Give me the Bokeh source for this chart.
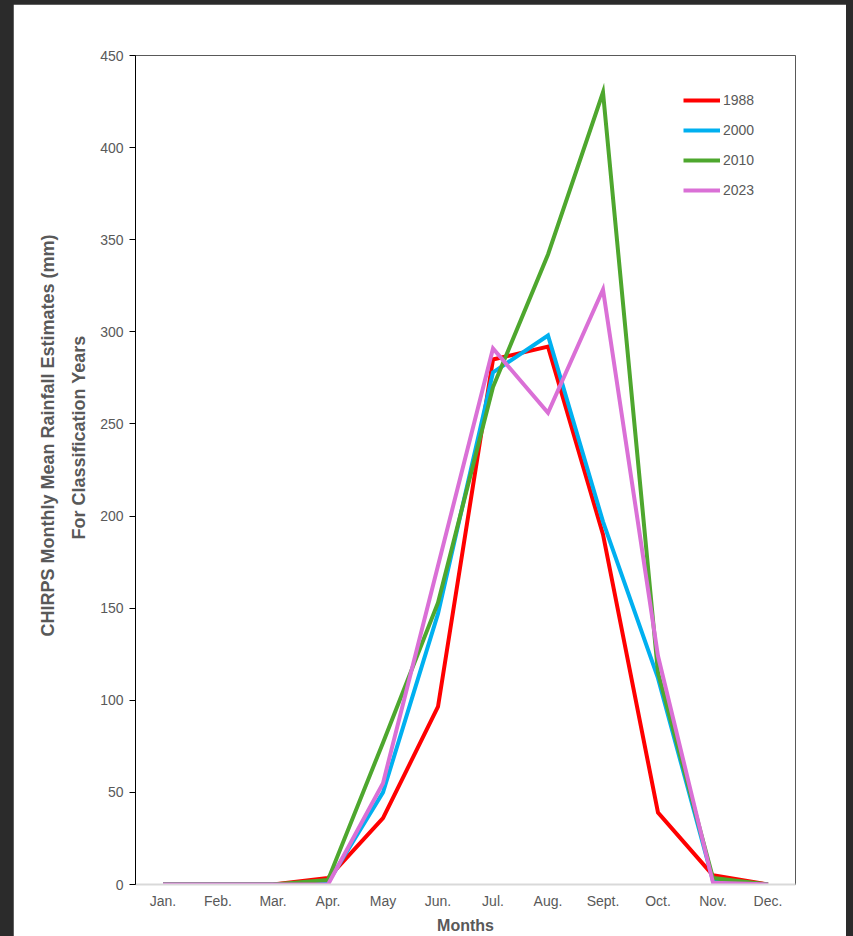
from bokeh.plotting import figure
from bokeh.models import Range1d, FactorRange, Legend, LegendItem, Title
from bokeh.embed import file_html
from bokeh.resources import INLINE

months = ["Jan.", "Feb.", "Mar.", "Apr.", "May", "Jun.", "Jul.", "Aug.", "Sept.", "Oct.", "Nov.", "Dec."]
y1988 = [0, 0, 0, 3.5, 36, 96.5, 285, 292, 190, 39, 5, 0]
y2000 = [0, 0, 0, 1, 50, 147, 278, 298, 197, 112, 2, 0]
y2010 = [0, 0, 0, 2.5, 77, 153, 270, 342, 430, 115, 3.5, 0]
y2023 = [0, 0, 0, 0, 55, 173, 291, 256, 323, 124, 1, 0]
series_names = ["1988", "2000", "2010", "2023"]
series_colors = ["#ff0000", "#00b0f0", "#4ea72e", "#da70d6"]
y_ticks = [0, 50, 100, 150, 200, 250, 300, 350, 400, 450]
y_title_lines = ["CHIRPS Monthly Mean Rainfall Estimates (mm)", "For Classification Years"]

FONT = "Liberation Sans"
GREY = "#595959"

p = figure(
    x_range=FactorRange(factors=months, range_padding=0),
    y_range=Range1d(0, 450),
    width=833, height=932,
    min_border_left=122, min_border_right=51, min_border_top=51, min_border_bottom=51,
    output_backend="svg", toolbar_location=None,
    background_fill_color="white", border_fill_color="white",
)
p.grid.visible = False
p.outline_line_color = "#595959"
p.outline_line_width = 1

renderers = []
for name, color, ys in zip(series_names, series_colors, [y1988, y2000, y2010, y2023]):
    r = p.line(months, ys, line_color=color, line_width=4, line_join="miter")
    renderers.append((name, r))

# y axis
ya = p.yaxis[0]
ya.ticker = y_ticks
ya.ticker.num_minor_ticks = 5
ya.major_tick_in = 0
ya.major_tick_out = 6
ya.minor_tick_in = 0
ya.minor_tick_out = 5
ya.axis_line_color = "black"
ya.major_tick_line_color = "black"
ya.minor_tick_line_color = "black"
ya.major_label_text_font = FONT
ya.major_label_text_font_size = "14px"
ya.major_label_text_color = GREY
ya.major_label_standoff = 6

# y title: two left-side titles (inner line first)
for line, so, off in [(y_title_lines[1], 18, 345), (y_title_lines[0], 0, 248)]:
    p.add_layout(Title(
        text=line, align="left", offset=off, standoff=so,
        text_font=FONT, text_font_style="bold", text_font_size="18px",
        text_color=GREY,
    ), "left")

# x axis
xa = p.xaxis[0]
xa.major_tick_in = 0
xa.major_tick_out = 0
xa.minor_tick_out = 0
xa.axis_line_color = "#d9d9d9"
xa.axis_line_width = 2
xa.major_label_text_font = FONT
xa.major_label_text_font_size = "14px"
xa.major_label_text_color = GREY
xa.major_label_standoff = 8
xa.axis_label = "Months"
xa.axis_label_text_font = FONT
xa.axis_label_text_font_style = "bold"
xa.axis_label_text_font_size = "16px"
xa.axis_label_text_color = GREY
xa.axis_label_standoff = 5

legend = Legend(
    items=[LegendItem(label=n, renderers=[r]) for n, r in renderers],
    location=(548, 684),
    border_line_color=None,
    background_fill_alpha=0,
    padding=0, margin=0, spacing=10,
    glyph_width=37, glyph_height=20,
    label_standoff=3,
    label_text_font=FONT, label_text_font_size="14px", label_text_color=GREY,
)
p.add_layout(legend)

html = file_html(p, INLINE)
html = html.replace("</head>", "<style>html,body{background:#2b2b2b !important;} body{margin:4px 0 0 13px !important; overflow:hidden;}</style></head>", 1)
open("out.html", "w").write(html)
